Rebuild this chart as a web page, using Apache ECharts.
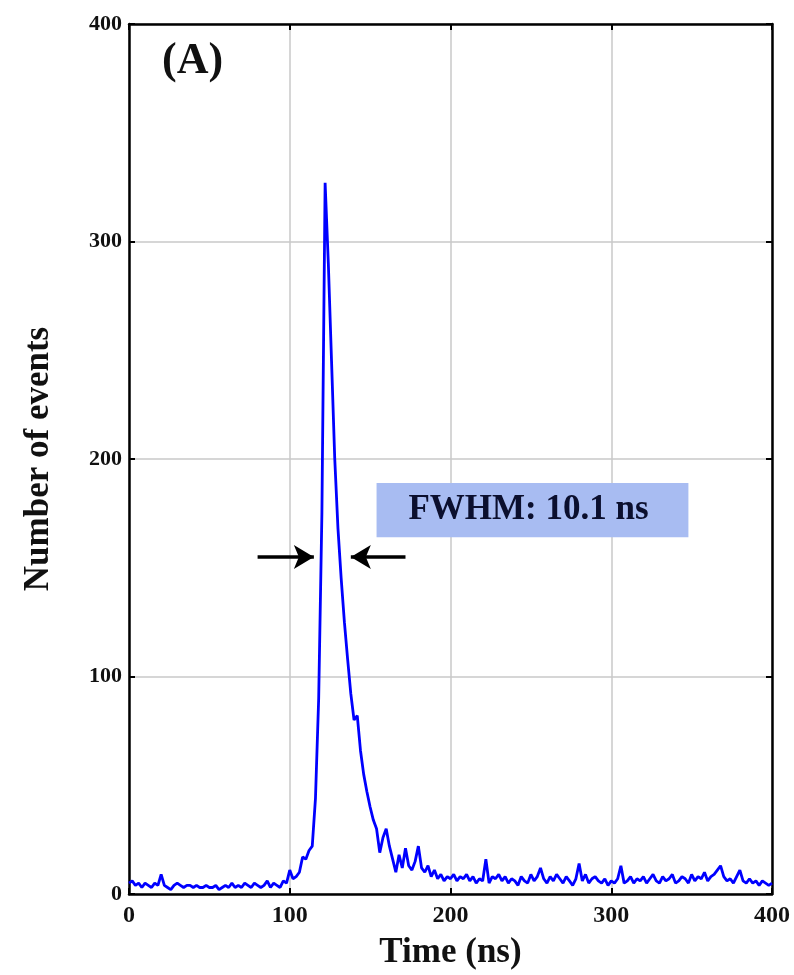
<!DOCTYPE html>
<html>
<head>
<meta charset="utf-8">
<script src="https://cdn.jsdelivr.net/npm/echarts@6/dist/echarts.min.js"></script>
<style>
  html, body { margin: 0; padding: 0; background: #fff; }
  #chart { width: 794px; height: 975px; }
</style>
</head>
<body>
<div id="chart"></div>
<script>
// histogram, 2 ns bins from 0 to 400 ns
const binWidth = 2
const counts = [
  5, 6, 4, 5, 3, 5, 4, 3, 5, 4, 9, 4, 3, 2, 4, 5, 4, 3, 4, 4,
  3, 4, 3, 3, 4, 3, 3, 4, 2, 3, 4, 3, 5, 3, 4, 3, 5, 4, 3, 5,
  4, 3, 4, 6, 3, 5, 4, 3, 6, 5,
  11, 7, 8, 10, 17, 16, 20, 22, 44, 90, 175, 327, 290, 245, 200, 168, 145, 125, 108, 92,
  80, 82, 66, 55, 47, 40, 34, 30, 19, 26, 30, 22, 16, 10, 18, 12, 21, 13, 11, 15,
  22, 12, 10, 13, 8, 11, 7, 9, 6, 8,
  7, 9, 6, 8, 7, 9, 6, 8, 5, 7, 6, 16, 5, 8, 7, 9, 6, 8, 5, 7,
  6, 4, 8, 6, 5, 9, 6, 8, 12, 7, 5, 8, 6, 9, 7, 5, 8, 6, 4, 7,
  14, 6, 9, 5, 7, 8, 6, 5, 7, 4, 6, 5, 7, 13, 5, 6, 8, 5, 7, 6,
  8, 5, 7, 9, 6, 5, 8, 6, 7, 9, 5, 6, 8, 7, 5, 9, 6, 8, 7, 10,
  6, 8, 9, 11, 13, 8, 6, 7, 5, 8, 11, 6, 5, 7, 5, 6, 4, 6, 5, 4,
  5
]
const xTicks = [0, 100, 200, 300, 400]
const yTicks = [0, 100, 200, 300, 400]
const fwhmLabel = 'FWHM: 10.1 ns'
const fwhmArrowY = 155
const leftArrow = [80, 115]
const rightArrow = [172, 138]
const labelBox = [[154, 189], [348, 164]]

const serif = '"Liberation Serif", "DejaVu Serif", serif'
const chart = echarts.init(document.getElementById('chart'))

const frameLine = { show: true, onZero: false, lineStyle: { color: '#000', width: 2.5 } }
const frameTick = { show: true, inside: true, length: 6, lineStyle: { color: '#000', width: 2 } }
const grid = { show: true, lineStyle: { color: '#c8c8c8', width: 1.5 } }

chart.setOption({
  animation: false,
  grid: { left: 129, right: 22, top: 24, bottom: 80 },
  graphic: [
    {
      type: 'text',
      left: 162,
      top: 40,
      style: {
        text: '(A)',
        font: 'bold 44px ' + serif,
        fill: '#111'
      }
    }
  ],
  xAxis: [
    {
      type: 'value',
      min: xTicks[0],
      max: xTicks[xTicks.length - 1],
      interval: 100,
      name: 'Time (ns)',
      nameLocation: 'middle',
      nameGap: 41,
      nameTextStyle: { fontFamily: serif, fontWeight: 'bold', fontSize: 35, color: '#111' },
      axisLine: frameLine,
      axisTick: frameTick,
      axisLabel: { fontFamily: serif, fontWeight: 'bold', fontSize: 24, color: '#111', margin: 10 },
      splitLine: grid
    },
    {
      type: 'value',
      position: 'top',
      min: 0,
      max: 400,
      interval: 100,
      axisLine: frameLine,
      axisTick: frameTick,
      axisLabel: { show: false },
      splitLine: { show: false }
    }
  ],
  yAxis: [
    {
      type: 'value',
      min: yTicks[0],
      max: yTicks[yTicks.length - 1],
      interval: 100,
      name: 'Number of events',
      nameLocation: 'middle',
      nameGap: 73,
      nameTextStyle: { fontFamily: serif, fontWeight: 'bold', fontSize: 35, color: '#111' },
      axisLine: frameLine,
      axisTick: frameTick,
      axisLabel: { fontFamily: serif, fontWeight: 'bold', fontSize: 22, color: '#111', margin: 7 },
      splitLine: grid
    },
    {
      type: 'value',
      position: 'right',
      min: 0,
      max: 400,
      interval: 100,
      axisLine: frameLine,
      axisTick: frameTick,
      axisLabel: { show: false },
      splitLine: { show: false }
    }
  ],
  series: [
    {
      type: 'line',
      data: counts.map((c, i) => [i * binWidth, c]),
      symbol: 'none',
      lineStyle: { color: '#0000ff', width: 2.8 },
      z: 3,
      markArea: {
        silent: true,
        itemStyle: { color: '#a8bcf2' },
        label: {
          show: true,
          position: 'inside',
          formatter: fwhmLabel,
          fontFamily: serif,
          fontWeight: 'bold',
          fontSize: 35,
          color: '#0b0f2e',
          offset: [-4, 0]
        },
        data: [[{ coord: labelBox[0] }, { coord: labelBox[1] }]]
      },
      markLine: {
        silent: true,
        symbol: ['none', 'arrow'],
        symbolSize: [18, 20],
        label: { show: false },
        lineStyle: { color: '#000', width: 3.5, type: 'solid' },
        data: [
          [{ coord: [leftArrow[0], fwhmArrowY] }, { coord: [leftArrow[1], fwhmArrowY] }],
          [{ coord: [rightArrow[0], fwhmArrowY] }, { coord: [rightArrow[1], fwhmArrowY] }]
        ]
      }
    }
  ]
})
</script>
</body>
</html>
